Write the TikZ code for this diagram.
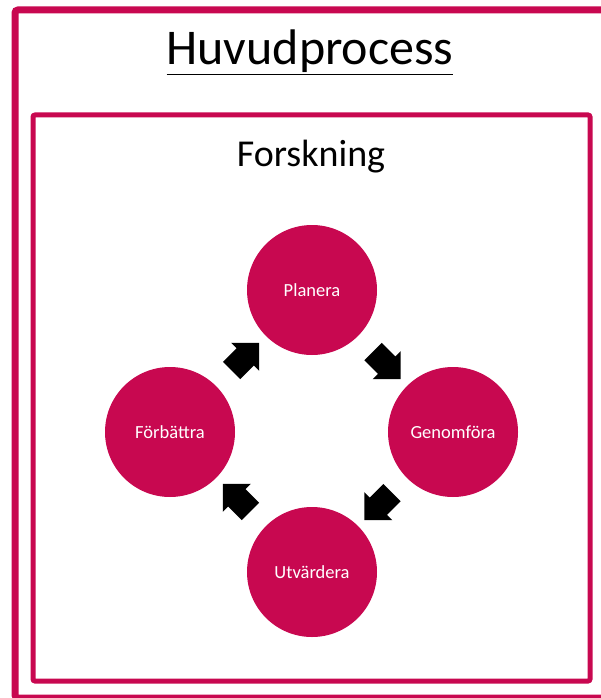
\documentclass[tikz,border=0pt]{standalone}
\usepackage{fontspec}
\setmainfont{Carlito}
\usepackage{xcolor}
\usetikzlibrary{shapes.arrows,calc}
\definecolor{huvudrosa}{RGB}{200,8,80}

\begin{document}
\begin{tikzpicture}[x=1pt,y=1pt,
    fas/.style={circle,fill=huvudrosa,minimum size=130pt,inner sep=0pt,text=white,font=\fontsize{18.5}{22}\selectfont},
    pil/.style={single arrow,fill=black,minimum height=39pt,inner xsep=0pt,inner ysep=12pt,single arrow head extend=7.5pt,single arrow head indent=0pt}]
                \useasboundingbox (0,0) rectangle (600,-698);

                \draw[huvudrosa,line width=7pt,rounded corners=3pt] (15,-10) rectangle (607,-698);
                \draw[huvudrosa,line width=5pt,rounded corners=2pt] (33,-115) rectangle (590,-681);

                \node[anchor=base] (titel) at (310,-65) {\fontsize{50}{56}\selectfont\underline{Huvudprocess}};
                \node[anchor=base] (forskning) at (311,-166) {\fontsize{38}{44}\selectfont Forskning};

                \node[fas] (planera) at (312,-290) {Planera};
                \node[fas] (genomfora) at (453,-432) {Genomföra};
                \node[fas] (utvardera) at (312,-572) {Utvärdera};
                \node[fas] (forbattra) at (170,-432) {Förbättra};

                \node[pil,rotate=-45] (pil1) at ($(planera)!0.5!(genomfora)$) {};
                \node[pil,rotate=-135] (pil2) at ($(genomfora)!0.5!(utvardera)$) {};
                \node[pil,rotate=135] (pil3) at ($(utvardera)!0.5!(forbattra)$) {};
                \node[pil,rotate=45] (pil4) at ($(forbattra)!0.5!(planera)$) {};
            \end{tikzpicture}
\end{document}
